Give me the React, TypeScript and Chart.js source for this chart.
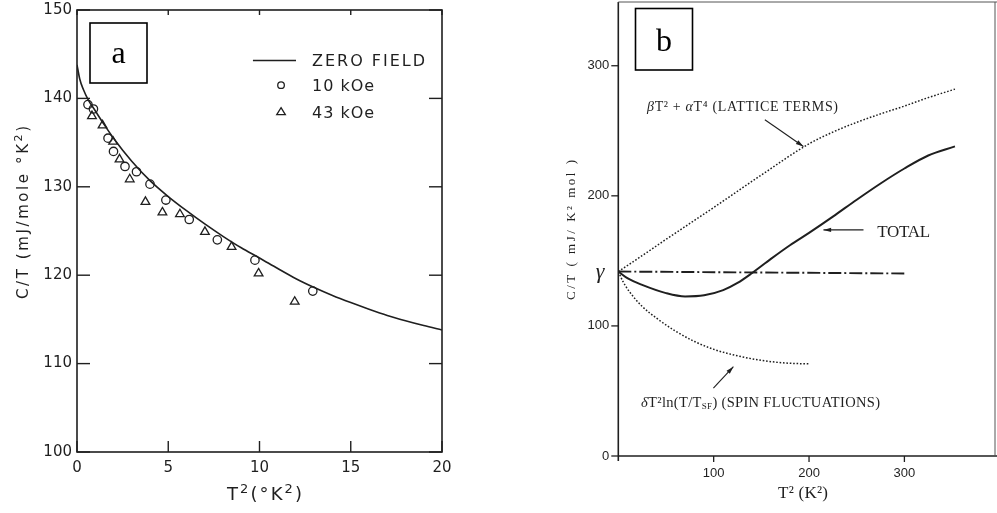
import React, { useEffect, useRef } from 'react';
import { Chart, registerables } from 'chart.js';
Chart.register(...registerables);

// ---------------- Panel a data ----------------
const zeroFieldT2 = [0, 0.15, 0.35, 0.6, 1, 1.5, 2, 3, 4, 5, 6, 7, 8, 9, 10, 11, 12, 13, 14, 15, 16, 17, 18, 19, 20];
const zeroFieldCT = [143.8, 142.2, 141.0, 139.9, 138.6, 137.0, 135.5, 132.9, 130.7, 128.9, 127.3, 125.8, 124.4, 123.1, 121.95, 120.75, 119.6, 118.6, 117.7, 116.9, 116.15, 115.45, 114.85, 114.3, 113.8];
const field10T2 = [0.6, 0.9, 1.7, 2.0, 2.63, 3.26, 4.0, 4.87, 6.15, 7.69, 9.75, 12.92];
const field10CT = [139.3, 138.8, 135.5, 134.0, 132.3, 131.7, 130.3, 128.5, 126.3, 124.0, 121.7, 118.2];
const field43T2 = [0.82, 1.4, 1.98, 2.33, 2.89, 3.75, 4.68, 5.64, 7.01, 8.47, 9.95, 11.93];
const field43CT = [138.0, 136.95, 135.1, 133.1, 130.85, 128.3, 127.1, 126.9, 124.9, 123.2, 120.2, 117.0];
const xTicksA = [0, 5, 10, 15, 20];
const yTicksA = [100, 110, 120, 130, 140, 150];
const legendA = ['ZERO FIELD', '10 kOe', '43 kOe'];

// ---------------- Panel b data ----------------
const latticeT2 = [0, 25, 50, 100, 150, 200, 225, 250, 275, 300, 325, 353];
const latticeCT = [141.8, 154, 166.5, 191, 216, 240, 249, 256.5, 263, 269, 275.5, 282];
const totalT2 = [0, 10, 25, 50, 70, 90, 110, 125, 140, 160, 180, 200, 225, 250, 275, 300, 325, 353];
const totalCT = [141.8, 136.5, 131.5, 125.2, 122.6, 123.5, 127.5, 133, 140.5, 151.5, 162, 171.5, 184, 197, 209.5, 221, 231, 238];
const spinT2 = [0, 5, 12, 25, 40, 60, 80, 100, 125, 150, 175, 200];
const spinCT = [141.8, 134, 126, 115, 106, 96, 88, 82, 77, 73.5, 71.5, 70.8];
const gammaT2 = [0, 302];
const gammaCT = [141.8, 140.3];
const xTicksB = [100, 200, 300];
const yTicksB = [0, 100, 200, 300];

const INK = '#1f1f1f';
const SANS_A = '"DejaVu Sans", sans-serif';
const SERIF = '"Liberation Serif", "Times New Roman", serif';
const SANS_B = '"Liberation Sans", Arial, sans-serif';

type Seg = { t: string; font: string; dy?: number };

function drawRich(ctx: CanvasRenderingContext2D, segs: Seg[], left: number, baseline: number, width?: number) {
  const c: any = ctx;
  c.letterSpacing = '0px';
  let natural = 0;
  let n = 0;
  for (const s of segs) {
    ctx.font = s.font;
    natural += ctx.measureText(s.t).width;
    n += [...s.t].length;
  }
  const ls = width && n > 1 ? (width - natural) / (n - 1) : 0;
  let x = left;
  ctx.textAlign = 'left';
  ctx.textBaseline = 'alphabetic';
  for (const s of segs) {
    ctx.font = s.font;
    c.letterSpacing = '0px';
    const w = ctx.measureText(s.t).width;
    c.letterSpacing = ls + 'px';
    ctx.fillText(s.t, x, baseline + (s.dy || 0));
    c.letterSpacing = '0px';
    x += w + [...s.t].length * ls;
  }
}

function line(ctx: CanvasRenderingContext2D, x1: number, y1: number, x2: number, y2: number) {
  ctx.beginPath();
  ctx.moveTo(x1, y1);
  ctx.lineTo(x2, y2);
  ctx.stroke();
}

function arrow(ctx: CanvasRenderingContext2D, x1: number, y1: number, x2: number, y2: number, head = 8) {
  line(ctx, x1, y1, x2, y2);
  const a = Math.atan2(y2 - y1, x2 - x1);
  ctx.beginPath();
  ctx.moveTo(x2, y2);
  ctx.lineTo(x2 - head * Math.cos(a - 0.28), y2 - head * Math.sin(a - 0.28));
  ctx.lineTo(x2 - head * Math.cos(a + 0.28), y2 - head * Math.sin(a + 0.28));
  ctx.closePath();
  ctx.fill();
}

const setTicks = (vals: number[]) => (s: any) => {
  s.ticks = vals.map((v) => ({ value: v }));
};

const panelAPlugin = {
  id: 'panelA',
  afterDraw(chart: any) {
    const { ctx, chartArea: ca, scales } = chart;
    const x = scales.x;
    const y = scales.y;
    ctx.save();
    ctx.strokeStyle = INK;
    ctx.fillStyle = INK;
    ctx.lineWidth = 1.6;
    ctx.strokeRect(ca.left, ca.top, ca.right - ca.left, ca.bottom - ca.top);
    ctx.lineWidth = 1.4;
    yTicksA.forEach((v) => {
      const py = y.getPixelForValue(v);
      line(ctx, ca.left, py, ca.left + 13, py);
      line(ctx, ca.right - 13, py, ca.right, py);
    });
    xTicksA.forEach((v) => {
      const px = x.getPixelForValue(v);
      line(ctx, px, ca.bottom, px, ca.bottom - 11);
      line(ctx, px, ca.top, px, ca.top + 5);
    });

    // legend
    const lx1 = x.getPixelForValue(9.64);
    const lx2 = x.getPixelForValue(12.0);
    const mx = x.getPixelForValue(11.18);
    const tx = x.getPixelForValue(12.88);
    const tx2 = x.getPixelForValue(19.07);
    const r1 = y.getPixelForValue(144.3);
    const r2 = y.getPixelForValue(141.5);
    const r3 = y.getPixelForValue(138.5);
    ctx.lineWidth = 1.5;
    line(ctx, lx1, r1, lx2, r1);
    ctx.lineWidth = 1.3;
    ctx.beginPath();
    ctx.arc(mx, r2, 3.3, 0, Math.PI * 2);
    ctx.stroke();
    ctx.beginPath();
    ctx.moveTo(mx, r3 - 4);
    ctx.lineTo(mx + 4.3, r3 + 3);
    ctx.lineTo(mx - 4.3, r3 + 3);
    ctx.closePath();
    ctx.stroke();
    const lf = `16px ${SANS_A}`;
    drawRich(ctx, [{ t: legendA[0], font: lf }], tx, r1 + 6, tx2 - tx);
    drawRich(ctx, [{ t: legendA[1], font: lf }], tx, r2 + 6, 62);
    drawRich(ctx, [{ t: legendA[2], font: lf }], tx, r3 + 6, 62);

    // axis titles
    const big = `15px ${SANS_A}`;
    const sup = `11px ${SANS_A}`;
    ctx.save();
    ctx.translate(27.5, 213);
    ctx.rotate(-Math.PI / 2);
    drawRich(ctx, [
      { t: 'C/T (mJ/mole °K', font: big },
      { t: '2', font: sup, dy: -6 },
      { t: ')', font: big },
    ], -86, 0, 173);
    ctx.restore();
    const xt = `18px ${SANS_A}`;
    const xs = `13px ${SANS_A}`;
    drawRich(ctx, [
      { t: 'T', font: xt },
      { t: '2', font: xs, dy: -7 },
      { t: '(°K', font: xt },
      { t: '2', font: xs, dy: -7 },
      { t: ')', font: xt },
    ], 227, 500, 75);

    // panel label box
    ctx.lineWidth = 1.6;
    ctx.strokeStyle = '#000';
    ctx.strokeRect(90, 23, 57, 60);
    ctx.fillStyle = '#000';
    ctx.font = `32px ${SERIF}`;
    ctx.textAlign = 'center';
    ctx.textBaseline = 'alphabetic';
    ctx.fillText('a', 118.5, 63);
    ctx.restore();
  },
};

const panelBPlugin = {
  id: 'panelB',
  afterDraw(chart: any) {
    const { ctx, chartArea: ca, scales } = chart;
    const x = scales.x;
    const y = scales.y;
    ctx.save();
    ctx.strokeStyle = INK;
    ctx.fillStyle = INK;
    // frame
    ctx.lineWidth = 1.6;
    line(ctx, ca.left, ca.top, ca.left, ca.bottom + 5);
    line(ctx, ca.left, ca.bottom, ca.right + 2, ca.bottom);
    ctx.lineWidth = 1;
    ctx.strokeStyle = '#555';
    line(ctx, ca.left, ca.top, ca.right + 2, ca.top);
    line(ctx, ca.right, ca.top, ca.right, ca.bottom);
    ctx.strokeStyle = INK;
    ctx.lineWidth = 1.3;
    yTicksB.forEach((v) => {
      const py = y.getPixelForValue(v);
      line(ctx, ca.left - 7, py, ca.left, py);
    });
    xTicksB.forEach((v) => {
      const px = x.getPixelForValue(v);
      line(ctx, px, ca.bottom, px, ca.bottom + 6);
    });

    // gamma
    ctx.font = `italic 22px ${SERIF}`;
    ctx.textAlign = 'center';
    ctx.textBaseline = 'middle';
    ctx.fillText('γ', x.getPixelForValue(-19), y.getPixelForValue(141.5));

    const f = `14px ${SERIF}`;
    const fi = `italic 14px ${SERIF}`;
    const fs = `9px ${SERIF}`;
    // lattice label + arrow
    drawRich(ctx, [
      { t: 'β', font: fi },
      { t: 'T', font: f },
      { t: '²', font: f },
      { t: ' + ', font: f },
      { t: 'α', font: fi },
      { t: 'T', font: f },
      { t: '⁴', font: f },
      { t: ' (LATTICE TERMS)', font: f },
    ], x.getPixelForValue(30.1), y.getPixelForValue(269.2) + 5, 191);
    ctx.lineWidth = 1.1;
    arrow(ctx, x.getPixelForValue(153.7), y.getPixelForValue(258.5), x.getPixelForValue(194.1), y.getPixelForValue(237.9));

    // total label + arrow
    drawRich(ctx, [{ t: 'TOTAL', font: `17px ${SERIF}` }], x.getPixelForValue(271.5), y.getPixelForValue(173.1) + 6, 53);
    arrow(ctx, x.getPixelForValue(257.1), y.getPixelForValue(173.8), x.getPixelForValue(215.1), y.getPixelForValue(173.8));

    // spin label + arrow
    const sf = `14.5px ${SERIF}`;
    drawRich(ctx, [
      { t: 'δ', font: `italic 14.5px ${SERIF}` },
      { t: 'T²ln(T/T', font: sf },
      { t: 'SF', font: fs, dy: 2 },
      { t: ') (SPIN FLUCTUATIONS)', font: sf },
    ], x.getPixelForValue(23.8), y.getPixelForValue(41.5) + 5, 239);
    arrow(ctx, x.getPixelForValue(99.7), y.getPixelForValue(52.1), x.getPixelForValue(120.7), y.getPixelForValue(68.7));

    // axis titles
    ctx.save();
    ctx.translate(54.5, 230);
    ctx.rotate(-Math.PI / 2);
    drawRich(ctx, [{ t: 'C/T ( mJ/ K² mol )', font: `13px ${SERIF}` }], -70, 0, 140);
    ctx.restore();
    drawRich(ctx, [
      { t: 'T', font: `17px ${SERIF}` },
      { t: '²', font: `17px ${SERIF}` },
      { t: ' (K', font: `17px ${SERIF}` },
      { t: '²', font: `17px ${SERIF}` },
      { t: ')', font: `17px ${SERIF}` },
    ], 258, 498, 50);

    // panel label box
    ctx.lineWidth = 1.6;
    ctx.strokeStyle = '#000';
    ctx.strokeRect(115.5, 8.5, 57, 61.5);
    ctx.fillStyle = '#000';
    ctx.font = `32px ${SERIF}`;
    ctx.textAlign = 'center';
    ctx.textBaseline = 'alphabetic';
    ctx.fillText('b', 144, 51);
    ctx.restore();
  },
};

const pts = (xs: number[], ys: number[]) => xs.map((v, i) => ({ x: v, y: ys[i] }));

function PanelA() {
  const ref = useRef<HTMLCanvasElement>(null);
  useEffect(() => {
    const chart = new Chart(ref.current as HTMLCanvasElement, {
      type: 'scatter',
      data: {
        datasets: [
          {
            label: legendA[0],
            data: pts(zeroFieldT2, zeroFieldCT),
            showLine: true,
            borderColor: INK,
            borderWidth: 1.6,
            pointRadius: 0,
            cubicInterpolationMode: 'monotone',
          } as any,
          {
            label: legendA[1],
            data: pts(field10T2, field10CT),
            pointStyle: 'circle',
            pointRadius: 4.2,
            pointBorderColor: INK,
            pointBorderWidth: 1.3,
            pointBackgroundColor: 'rgba(0,0,0,0)',
          } as any,
          {
            label: legendA[2],
            data: pts(field43T2, field43CT),
            pointStyle: 'triangle',
            pointRadius: 5,
            pointBorderColor: INK,
            pointBorderWidth: 1.3,
            pointBackgroundColor: 'rgba(0,0,0,0)',
          } as any,
        ],
      },
      options: {
        responsive: false,
        animation: false,
        events: [],
        layout: { padding: { left: 0, top: 10, right: 78, bottom: 0 } },
        plugins: { legend: { display: false }, tooltip: { enabled: false } },
        scales: {
          x: {
            type: 'linear',
            min: 0,
            max: 20,
            grid: { display: false, drawTicks: false },
            border: { display: false },
            ticks: { padding: 7, color: INK, font: { family: SANS_A, size: 15 } },
            afterBuildTicks: setTicks(xTicksA),
            afterFit: (s: any) => { s.height = 61; s.paddingLeft = 0; s.paddingRight = 0; },
          },
          y: {
            type: 'linear',
            min: 100,
            max: 150,
            grid: { display: false, drawTicks: false },
            border: { display: false },
            ticks: { padding: 5, color: INK, font: { family: SANS_A, size: 15 } },
            afterBuildTicks: setTicks(yTicksA),
            afterFit: (s: any) => { s.width = 77; s.paddingTop = 0; s.paddingBottom = 0; },
          },
        },
      } as any,
      plugins: [panelAPlugin],
    });
    return () => chart.destroy();
  }, []);
  return <canvas ref={ref} width={520} height={513} style={{ position: 'absolute', left: 0, top: 0 }} />;
}

function PanelB() {
  const ref = useRef<HTMLCanvasElement>(null);
  useEffect(() => {
    const common = { showLine: true, pointRadius: 0, cubicInterpolationMode: 'monotone', borderColor: INK };
    const chart = new Chart(ref.current as HTMLCanvasElement, {
      type: 'scatter',
      data: {
        datasets: [
          { label: 'lattice', data: pts(latticeT2, latticeCT), ...common, borderWidth: 1.5, borderDash: [1.6, 1.8] } as any,
          { label: 'total', data: pts(totalT2, totalCT), ...common, borderWidth: 2 } as any,
          { label: 'spin', data: pts(spinT2, spinCT), ...common, borderWidth: 1.5, borderDash: [1.6, 1.8] } as any,
          { label: 'gamma', data: pts(gammaT2, gammaCT), ...common, borderWidth: 1.9, borderDash: [13, 3, 2, 3] } as any,
        ],
      },
      options: {
        responsive: false,
        animation: false,
        events: [],
        layout: { padding: { left: 0, top: 2, right: 2, bottom: 0 } },
        plugins: { legend: { display: false }, tooltip: { enabled: false } },
        scales: {
          x: {
            type: 'linear',
            min: 0,
            max: 395,
            grid: { display: false, drawTicks: false },
            border: { display: false },
            ticks: { padding: 10, color: INK, font: { family: SANS_B, size: 13 } },
            afterBuildTicks: setTicks(xTicksB),
            afterFit: (s: any) => { s.height = 57; s.paddingLeft = 0; s.paddingRight = 0; },
          },
          y: {
            type: 'linear',
            min: 0,
            max: 349,
            grid: { display: false, drawTicks: false },
            border: { display: false },
            ticks: { padding: 9, color: INK, font: { family: SANS_B, size: 13 } },
            afterBuildTicks: setTicks(yTicksB),
            afterFit: (s: any) => { s.width = 98.3; s.paddingTop = 0; s.paddingBottom = 0; },
          },
        },
      } as any,
      plugins: [panelBPlugin],
    });
    return () => chart.destroy();
  }, []);
  return <canvas ref={ref} width={477} height={513} style={{ position: 'absolute', left: 520, top: 0 }} />;
}

export default function App() {
  return (
    <div style={{ position: 'absolute', left: 0, top: 0, width: 997, height: 513, background: '#fff', overflow: 'hidden' }}>
      <PanelA />
      <PanelB />
    </div>
  );
}
